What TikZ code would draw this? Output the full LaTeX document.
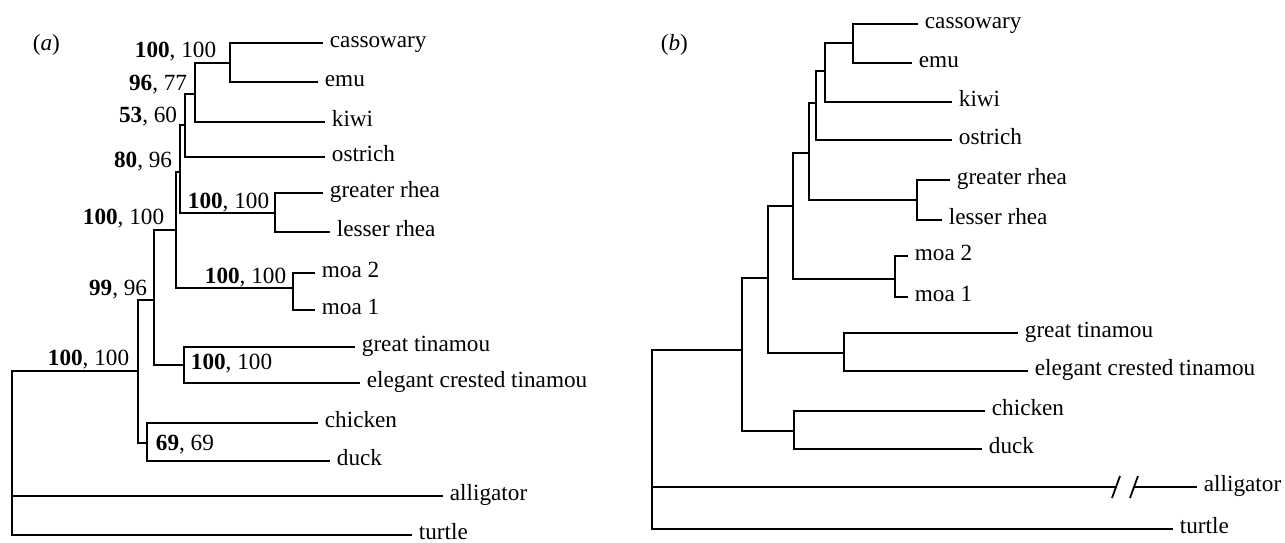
\documentclass[tikz,border=0pt]{standalone}
\usepackage{fontspec}
\setmainfont{Liberation Serif}

\begin{document}
\begin{tikzpicture}[
	x=0.5pt, y=-0.5pt,
	line width=0.9pt,
	every node/.style={font=\fontsize{11.6}{14}\selectfont},
	leaf/.style={anchor=mid west, inner xsep=3pt, inner ysep=1pt},
	boot/.style={inner sep=0pt, anchor=base east},
	bootr/.style={inner sep=0pt, anchor=base west},
	panel/.style={inner sep=0pt, anchor=base west},
]
	\useasboundingbox (0,0) rectangle (1285,542);

	% (a) with support values
	\node[panel] (a-lab) at (32,50) {(\textit{a})};
	\foreach \n/\x/\y/\t in {
		cas/323/43/cassowary, emu/318/82/emu, kiwi/325/122/kiwi,
		ost/325/157/ostrich, grh/323/193/greater rhea, lrh/330/232/lesser rhea,
		moa2/315/273/moa 2, moa1/315/310/moa 1, gti/355/347/great tinamou,
		ect/360/383/elegant crested tinamou, chi/318/423/chicken,
		duck/330/461/duck, all/443/496/alligator, tur/412/535/turtle
	}{
		\node[leaf] (a-\n) at (\x,\y) {\t};
	}
	\foreach \n/\x/\y in {
		ce/230/63, cek/195/94, ceko/185/125, rhea/275/213, ratA/180/172,
		moa/293/288, ratB/176/230, tin/184/365, pal/154/300, gall/147/443,
		aves/138/371, root/12/496
	}{
		\coordinate (a-\n) at (\x,\y);
	}
	\foreach \p/\c in {cek/ce, ceko/cek, ratA/ceko, ratA/rhea, ratB/ratA,
		ratB/moa, pal/ratB, pal/tin, aves/pal, aves/gall, root/aves}{
		\draw (a-\p) |- (a-\c);
	}
	\foreach \p/\c in {ce/cas, ce/emu, cek/kiwi, ceko/ost, rhea/grh,
		rhea/lrh, moa/moa2, moa/moa1, tin/gti, tin/ect, gall/chi, gall/duck,
		root/all, root/tur}{
		\draw (a-\p) |- (a-\c.mid west);
	}
	\node[boot] (a-s1) at (217,57) {\textbf{100}, 100};
	\node[boot] (a-s2) at (188,90) {\textbf{96}, 77};
	\node[boot] (a-s3) at (178,122) {\textbf{53}, 60};
	\node[boot] (a-s4) at (173,167) {\textbf{80}, 96};
	\node[boot] (a-s5) at (270,208) {\textbf{100}, 100};
	\node[boot] (a-s6) at (165,224) {\textbf{100}, 100};
	\node[boot] (a-s7) at (287,283) {\textbf{100}, 100};
	\node[boot] (a-s8) at (148,295) {\textbf{99}, 96};
	\node[boot] (a-s9) at (130,365) {\textbf{100}, 100};
	\node[bootr] (a-s10) at (190,369) {\textbf{100}, 100};
	\node[bootr] (a-s11) at (155,450) {\textbf{69}, 69};

	% (b) with branch lengths
	\node[panel] (b-lab) at (660,50) {(\textit{b})};
	\foreach \n/\x/\y/\t in {
		cas/918/24/cassowary, emu/912/63/emu, kiwi/952/102/kiwi,
		ost/952/140/ostrich, grh/950/180/greater rhea, lrh/942/220/lesser rhea,
		moa2/908/256/moa 2, moa1/908/297/moa 1, gti/1018/333/great tinamou,
		ect/1028/371/elegant crested tinamou, chi/985/411/chicken,
		duck/982/449/duck, all/1197/487/alligator, tur/1173/529/turtle
	}{
		\node[leaf] (b-\n) at (\x,\y) {\t};
	}
	\foreach \n/\x/\y in {
		ce/853/43, cek/825/71, ceko/816/103, rhea/917/200, ratA/809/153,
		moa/895/279, ratB/793/206, tin/844/353, pal/768/278, gall/794/431,
		aves/742/350, root/652/487, brk1/1116/487, brk2/1134/487
	}{
		\coordinate (b-\n) at (\x,\y);
	}
	\foreach \p/\c in {cek/ce, ceko/cek, ratA/ceko, ratA/rhea, ratB/ratA,
		ratB/moa, pal/ratB, pal/tin, aves/pal, aves/gall, root/aves,
		root/brk1}{
		\draw (b-\p) |- (b-\c);
	}
	\foreach \p/\c in {ce/cas, ce/emu, cek/kiwi, ceko/ost, rhea/grh,
		rhea/lrh, moa/moa2, moa/moa1, tin/gti, tin/ect, gall/chi, gall/duck,
		brk2/all, root/tur}{
		\draw (b-\p) |- (b-\c.mid west);
	}
	% break in the alligator branch
	\draw (b-brk1) ++(-4,11) -- ++(8,-22);
	\draw (b-brk2) ++(-4,11) -- ++(8,-22);

\end{tikzpicture}
\end{document}
